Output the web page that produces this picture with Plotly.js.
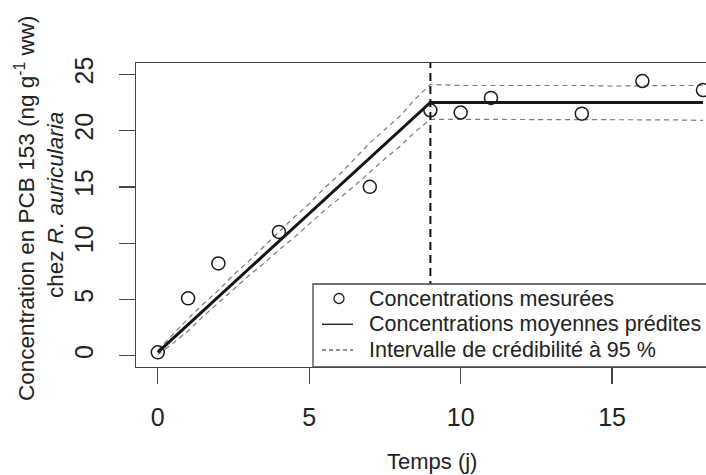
<!DOCTYPE html>
<html>
<head>
<meta charset="utf-8">
<script src="https://cdn.plot.ly/plotly-3.0.1.min.js"></script>
<style>html,body{margin:0;padding:0;background:#fff;}#chart{width:706px;height:475px;}</style>
</head>
<body>
<div id="chart"></div>
<script>
// Measured concentrations (days, ng/g ww)
const days = [0, 1, 2, 4, 7, 9, 10, 11, 14, 16, 18];
const measured = [0.3, 5.1, 8.2, 11.0, 15.0, 21.8, 21.6, 22.9, 21.5, 24.4, 23.6];

// Predicted mean concentration
const predTime = [0, 9, 18];
const predMean = [0.3, 22.5, 22.5];

// 95 % credibility interval
const ciTime  = [0, 0.5, 1, 1.5, 2, 2.5, 3, 3.5, 4, 4.5, 5, 5.5, 6, 6.5, 7, 7.5, 8, 8.5, 9,
                 10, 11, 12, 13, 14, 15, 16, 17, 18];
const ciUpper = [0.5, 1.9, 3.3, 4.6, 5.8, 7.2, 8.4, 9.7, 11.0, 12.3, 13.5, 14.9, 16.1, 17.5, 18.9, 20.1, 21.3, 22.8, 24.1,
                 24.0, 24.0, 24.05, 24.0, 24.0, 23.95, 24.0, 24.0, 24.0];
const ciLower = [0.1, 1.1, 2.2, 3.5, 4.7, 5.9, 7.1, 8.2, 9.4, 10.5, 11.7, 12.9, 14.0, 15.1, 16.3, 17.5, 18.6, 19.9, 21.0,
                 21.0, 21.0, 21.0, 21.0, 21.0, 21.0, 20.95, 20.95, 20.9];

// End of the exposure phase (days)
const tExposureEnd = 9;

const xTicks = [0, 5, 10, 15];
const yTicks = [0, 5, 10, 15, 20, 25];

const legendLabels = ["Concentrations mesurées", "Concentrations moyennes prédites", "Intervalle de crédibilité à 95 %"];
const yTitleLines = ["Concentration en PCB 153 (ng g<sup>-1</sup> ww)", "chez <i>R. auricularia</i>"];
const xTitle = "Temps (j)";

const FONT = "Liberation Sans, Arial, Helvetica, sans-serif";
const TXT = "#222";
const AX = "#444";

// layout geometry (pixels)
const W = 706, H = 475, L = 136, R = 0, T = 63, B = 108;
const PW = W - L - R, PH = H - T - B;
const px = v => (v - L) / PW;
const py = v => (H - B - v) / PH;

const traces = [
  {x: ciTime, y: ciUpper, mode: 'lines', line: {color: '#7a7a7a', width: 1.2, dash: '5px,4px'}, showlegend: false, hoverinfo: 'skip'},
  {x: ciTime, y: ciLower, mode: 'lines', line: {color: '#7a7a7a', width: 1.2, dash: '5px,4px'}, showlegend: false, hoverinfo: 'skip'},
  {x: predTime, y: predMean, mode: 'lines', line: {color: '#151515', width: 3}, showlegend: false},
  {x: days, y: measured, mode: 'markers', marker: {symbol: 'circle-open', size: 13, color: '#1a1a1a', line: {width: 1.5, color: '#1a1a1a'}}, showlegend: false}
];

const rows = [py(298.5), py(324.3), py(350)];

const shapes = [
  {type: 'line', xref: 'x', yref: 'paper', x0: tExposureEnd, x1: tExposureEnd, y0: 0, y1: 1,
   line: {color: '#111', width: 2, dash: '8px,5px'}, layer: 'above'},
  {type: 'rect', xref: 'paper', yref: 'paper', x0: px(313), x1: 1.2, y0: 0, y1: py(284),
   fillcolor: '#fff', line: {color: AX, width: 1.3}, layer: 'above'},
  {type: 'circle', xref: 'paper', yref: 'paper', xsizemode: 'pixel', ysizemode: 'pixel',
   xanchor: px(339), yanchor: rows[0], x0: -5, x1: 5, y0: -5, y1: 5,
   line: {color: TXT, width: 1.3}, layer: 'above'},
  {type: 'line', xref: 'paper', yref: 'paper', x0: px(322), x1: px(353), y0: rows[1], y1: rows[1],
   line: {color: TXT, width: 1.4}, layer: 'above'},
  {type: 'line', xref: 'paper', yref: 'paper', x0: px(322), x1: px(353), y0: rows[2], y1: rows[2],
   line: {color: TXT, width: 1.2, dash: '4px,3px'}, layer: 'above'}
];

const annotations = legendLabels.map((t, i) => ({
  text: t, xref: 'paper', yref: 'paper', x: px(367), y: rows[i], xanchor: 'left', yanchor: 'middle',
  showarrow: false, font: {family: FONT, size: 21.5, color: TXT}
}));
annotations.push(
  {text: yTitleLines[0], xref: 'paper', yref: 'paper', x: px(25), y: py(209), xanchor: 'center', yanchor: 'middle',
   textangle: -90, showarrow: false, font: {family: FONT, size: 22.5, color: TXT}},
  {text: yTitleLines[1], xref: 'paper', yref: 'paper', x: px(55), y: py(205), xanchor: 'center', yanchor: 'middle',
   textangle: -90, showarrow: false, font: {family: FONT, size: 22.5, color: TXT}},
  {text: xTitle, xref: 'paper', yref: 'paper', x: px(432), y: py(461), xanchor: 'center', yanchor: 'middle',
   showarrow: false, font: {family: FONT, size: 22, color: TXT}}
);

const layout = {
  width: W, height: H,
  margin: {l: L, r: R, t: T, b: B, pad: 0},
  paper_bgcolor: '#fff', plot_bgcolor: '#fff',
  showlegend: false,
  font: {family: FONT, color: TXT},
  xaxis: {range: [-0.72, 18.1], tickmode: 'array', tickvals: xTicks, ticktext: xTicks.map(String),
          ticks: 'outside', ticklen: 16, tickwidth: 1.3, tickcolor: AX,
          showline: true, mirror: true, linecolor: AX, linewidth: 1.3,
          showgrid: false, zeroline: false, tickfont: {family: FONT, size: 25, color: TXT}, ticklabelstandoff: 12},
  yaxis: {range: [-1, 26], tickmode: 'array', tickvals: yTicks, ticktext: yTicks.map(String),
          ticks: 'outside', ticklen: 16, tickwidth: 1.3, tickcolor: AX, tickangle: -90,
          showline: true, mirror: false, linecolor: AX, linewidth: 1.3,
          showgrid: false, zeroline: false, tickfont: {family: FONT, size: 25, color: TXT}, ticklabelstandoff: 16},
  shapes: shapes,
  annotations: annotations
};

Plotly.newPlot('chart', traces, layout, {displayModeBar: false, staticPlot: true});
</script>
</body>
</html>
